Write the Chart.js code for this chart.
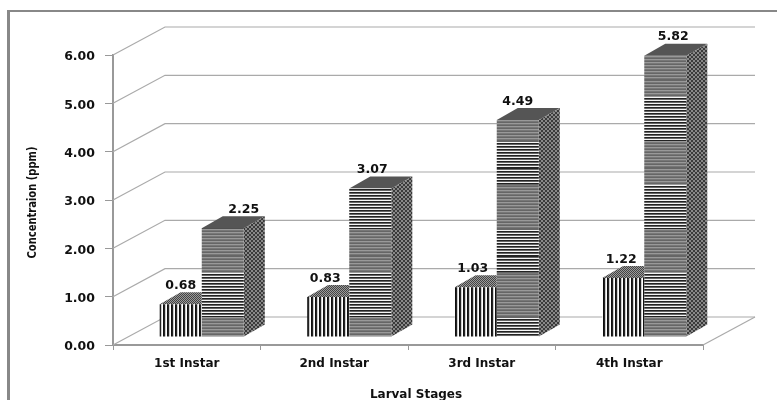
<!DOCTYPE html>
<html>
<head>
<meta charset="utf-8">
<style>
  html, body { margin: 0; padding: 0; background: #fff; }
  #wrap { width: 777px; height: 400px; overflow: hidden; }
  canvas { display: block; filter: blur(0.4px); }
</style>
<script src="https://cdn.jsdelivr.net/npm/chart.js@4"></script>
</head>
<body>
<div id="wrap"><canvas id="chart" width="777" height="400"></canvas></div>
<script>
const categories = ['1st Instar', '2nd Instar', '3rd Instar', '4th Instar'];
const firstSeries = [0.68, 0.83, 1.03, 1.22];
const secondSeries = [2.25, 3.07, 4.49, 5.82];
const yTicks = [0, 1, 2, 3, 4, 5, 6];
const yTickLabels = ['0.00', '1.00', '2.00', '3.00', '4.00', '5.00', '6.00'];
const xTitle = 'Larval Stages';
const yTitle = 'Concentraion (ppm)';

// hand-placed data labels in the original, px from the bar centre
const firstLabelNudge = [0, -3, -3, -2];
const secondLabelNudge = [21, 2, 0, 8];

const WALL = { dx: 52, dy: -28 };   // back wall offset
const FRONT = { dx: 15, dy: -8 };   // bar front plane offset from the axis plane
const DEPTH = { dx: 21, dy: -12 };  // bar depth
const FONT = 'bold 12.5px "DejaVu Sans"';
const TICK_FONT = { family: 'DejaVu Sans', size: 12.5, weight: 'bold' };

function tile(w, h, paint) {
  const c = document.createElement('canvas');
  c.width = w; c.height = h;
  const x = c.getContext('2d');
  for (let j = 0; j < h; j++) {
    for (let i = 0; i < w; i++) {
      x.fillStyle = paint(i, j);
      x.fillRect(i, j, 1, 1);
    }
  }
  return x.createPattern(c, 'repeat');
}

const vertical = tile(4, 1, i => ['#111', '#222', '#ccc', '#fff'][i]);
const crispRows = ['#222', '#666', '#f4f4f4'];
const grayRows = ['#666', '#999', '#777'];
// the stripes go in and out of moire every 44px or so
const bandsA = tile(1, 88, (i, j) => (j >= 17 && j < 61 ? crispRows : grayRows)[j % 3]);
const bandsB = tile(1, 88, (i, j) => (j >= 17 && j < 61 ? grayRows : crispRows)[j % 3]);
const checker = tile(4, 4, (i, j) => ((i + (j >> 1) * 2) % 4 < 2 ? '#3a3a3a' : '#888'));
const dither = tile(2, 2, (i, j) => ((i + j) % 2 ? '#444' : '#999'));

const bandOrder = [bandsA, bandsA, bandsB, bandsA];

const threeD = {
  id: 'threeD',
  beforeDraw(chart) {
    const ctx = chart.ctx;
    ctx.save();
    ctx.fillStyle = '#fff';
    ctx.fillRect(0, 0, chart.width, chart.height);
    ctx.fillStyle = '#888';
    ctx.fillRect(7, 10, 3, 390);
    ctx.fillRect(7, 10, 770, 2);
    ctx.restore();
  },
  beforeDatasetsDraw(chart) {
    const { ctx, chartArea, scales } = chart;
    ctx.save();
    ctx.strokeStyle = '#aaa';
    ctx.lineWidth = 1.2;
    yTicks.forEach(v => {
      const y = scales.y.getPixelForValue(v);
      ctx.beginPath();
      ctx.moveTo(chartArea.left, y);
      ctx.lineTo(chartArea.left + WALL.dx, y + WALL.dy);
      ctx.lineTo(chartArea.right + WALL.dx, y + WALL.dy);
      ctx.stroke();
    });
    // right edge of the floor
    const y0 = scales.y.getPixelForValue(0);
    ctx.beginPath();
    ctx.moveTo(chartArea.right, y0);
    ctx.lineTo(chartArea.right + WALL.dx, y0 + WALL.dy);
    ctx.stroke();
    ctx.restore();
  },
  beforeDatasetDraw(chart, args) {
    const ctx = chart.ctx;
    const isFirst = args.index === 0;
    ctx.save();
    ctx.translate(FRONT.dx, FRONT.dy);
    args.meta.data.forEach(bar => {
      const p = bar.getProps(['x', 'y', 'base', 'width'], true);
      const l = p.x - p.width / 2, r = p.x + p.width / 2;
      ctx.fillStyle = isFirst ? dither : '#555';
      ctx.beginPath();
      ctx.moveTo(l, p.y);
      ctx.lineTo(l + DEPTH.dx, p.y + DEPTH.dy);
      // the first series sits on top of the second one, so its top stops at the taller bar
      ctx.lineTo(isFirst ? r : r + DEPTH.dx, p.y + DEPTH.dy);
      ctx.lineTo(r, p.y);
      ctx.closePath();
      ctx.fill();
      if (isFirst) return;
      ctx.fillStyle = checker;
      ctx.beginPath();
      ctx.moveTo(r, p.y);
      ctx.lineTo(r + DEPTH.dx, p.y + DEPTH.dy);
      ctx.lineTo(r + DEPTH.dx, p.base + DEPTH.dy);
      ctx.lineTo(r, p.base);
      ctx.closePath();
      ctx.fill();
    });
  },
  afterDatasetDraw(chart) {
    chart.ctx.restore();
  },
  afterDatasetsDraw(chart) {
    const ctx = chart.ctx;
    ctx.save();
    ctx.font = FONT;
    ctx.fillStyle = '#111';
    ctx.textAlign = 'center';
    ctx.textBaseline = 'middle';
    [firstLabelNudge, secondLabelNudge].forEach((nudge, d) => {
      const meta = chart.getDatasetMeta(d);
      meta.data.forEach((bar, i) => {
        const value = chart.data.datasets[d].data[i];
        ctx.fillText(value.toFixed(2), bar.x + FRONT.dx + nudge[i], bar.y + FRONT.dy - 18.5);
      });
    });
    // axis titles sit off-centre in the original
    ctx.font = 'bold 12px "DejaVu Sans"';
    ctx.fillText(xTitle, 416, 395);
    ctx.translate(33, 202.5);
    ctx.rotate(-Math.PI / 2);
    ctx.font = 'bold 13px "DejaVu Sans Condensed"';
    ctx.fillText(yTitle, 0, 0, 112);
    ctx.restore();
  }
};

new Chart(document.getElementById('chart'), {
  type: 'bar',
  data: {
    labels: categories,
    datasets: [
      { data: firstSeries, backgroundColor: vertical },
      { data: secondSeries, backgroundColor: bandOrder }
    ]
  },
  options: {
    responsive: false,
    animation: false,
    layout: { padding: { left: 0, top: 55, right: 74, bottom: 0 } },
    plugins: { legend: { display: false }, tooltip: { enabled: false } },
    datasets: { bar: { categoryPercentage: 0.57, barPercentage: 1, borderWidth: 0 } },
    scales: {
      x: {
        afterFit: s => { s.height = 55; },
        grid: { drawOnChartArea: false, tickLength: 5, color: '#999' },
        border: { color: '#999', width: 2 },
        ticks: { color: '#111', font: { ...TICK_FONT, size: 12 }, padding: 7, maxRotation: 0 }
      },
      y: {
        min: 0,
        max: 6,
        afterFit: s => { s.width = 113; },
        afterBuildTicks: s => { s.ticks = yTicks.map(v => ({ value: v })); },
        grid: { drawOnChartArea: false, tickLength: 8, color: '#999' },
        border: { color: '#999', width: 2 },
        ticks: { color: '#111', font: TICK_FONT, padding: 10, labelOffset: 2, callback: (v, i) => yTickLabels[i] }
      }
    }
  },
  plugins: [threeD]
});
</script>
</body>
</html>
